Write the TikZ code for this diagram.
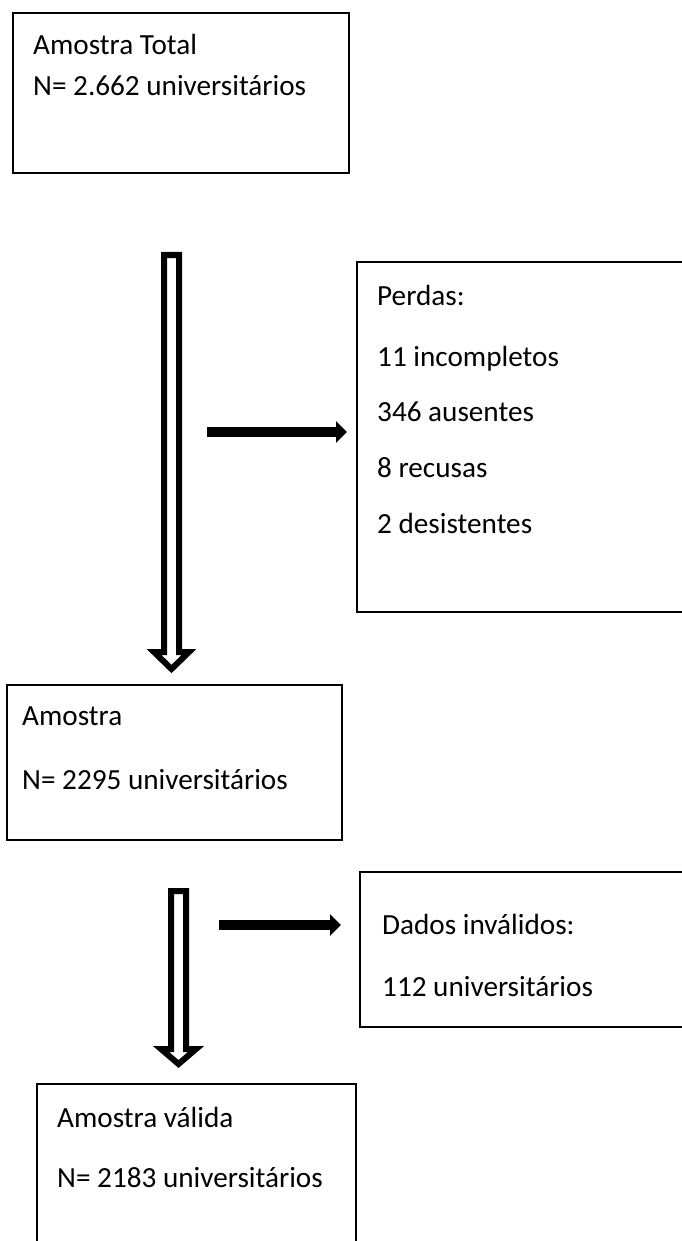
\documentclass[tikz,border=0pt]{standalone}
\usepackage{fontspec}
\setmainfont{Carlito}
\usetikzlibrary{arrows.meta}

\tikzset{
    box/.style={draw, line width=1.8pt, rectangle, anchor=north west, inner sep=0pt},
    txt/.style={anchor=base west, inner sep=0pt, font=\fontsize{29.2}{34}\selectfont},
    hollow/.style={draw, line width=6pt, fill=white, miter limit=20},
    bigarrow/.style={line width=10pt, -{Triangle[length=11pt, width=21pt]}}
}

\begin{document}
\begin{tikzpicture}[x=1pt, y=-1pt]
        \path[use as bounding box, clip] (0,0) rectangle (682,1241);
        \fill[white] (0,0) rectangle (682,1241);

        % Boxes
        \node[box, minimum width=336pt, minimum height=160pt] (total) at (12,12) {};
        \node[box, minimum width=360pt, minimum height=350pt] (perdas) at (356,261) {};
        \node[box, minimum width=335pt, minimum height=155pt] (amostra) at (6,684) {};
        \node[box, minimum width=360pt, minimum height=155pt] (dados) at (359,871) {};
        \node[box, minimum width=319pt, minimum height=220pt] (valida) at (36,1083) {};

        % Texts
        \node[txt] (t1) at ([shift={(21,43)}]total.north west) {Amostra Total};
        \node[txt] (t2) at ([shift={(21,84)}]total.north west) {N= 2.662 universitários};
        \node[txt] (p1) at ([shift={(21,44)}]perdas.north west) {Perdas:};
        \node[txt] (p2) at ([shift={(21,105)}]perdas.north west) {11 incompletos};
        \node[txt] (p3) at ([shift={(21,160)}]perdas.north west) {346 ausentes};
        \node[txt] (p4) at ([shift={(21,216)}]perdas.north west) {8 recusas};
        \node[txt] (p5) at ([shift={(21,272)}]perdas.north west) {2 desistentes};
        \node[txt] (a1) at ([shift={(16,41)}]amostra.north west) {Amostra};
        \node[txt] (a2) at ([shift={(16,105)}]amostra.north west) {N= 2295 universitários};
        \node[txt] (d1) at ([shift={(23,63)}]dados.north west) {Dados inválidos:};
        \node[txt] (d2) at ([shift={(23,125)}]dados.north west) {112 universitários};
        \node[txt] (v1) at ([shift={(21,44)}]valida.north west) {Amostra válida};
        \node[txt] (v2) at ([shift={(21,104)}]valida.north west) {N= 2183 universitários};

        % Hollow arrows
        \draw[hollow] (164,255) -- (179,255) -- (179,652) -- (189,652) -- (171.5,669)
            -- (154,652) -- (164,652) -- cycle;
        \draw[hollow] (171,891) -- (186,891) -- (186,1049) -- (196,1049) -- (178.5,1064)
            -- (161,1049) -- (171,1049) -- cycle;

        % Black arrows
        \coordinate (s1) at (207,432);
        \coordinate (s2) at (219,925);
        \draw[bigarrow, shorten >=9pt] (s1) -- (s1 -| perdas.west);
        \draw[bigarrow, shorten >=18pt] (s2) -- (s2 -| dados.west);
    \end{tikzpicture}
\end{document}
